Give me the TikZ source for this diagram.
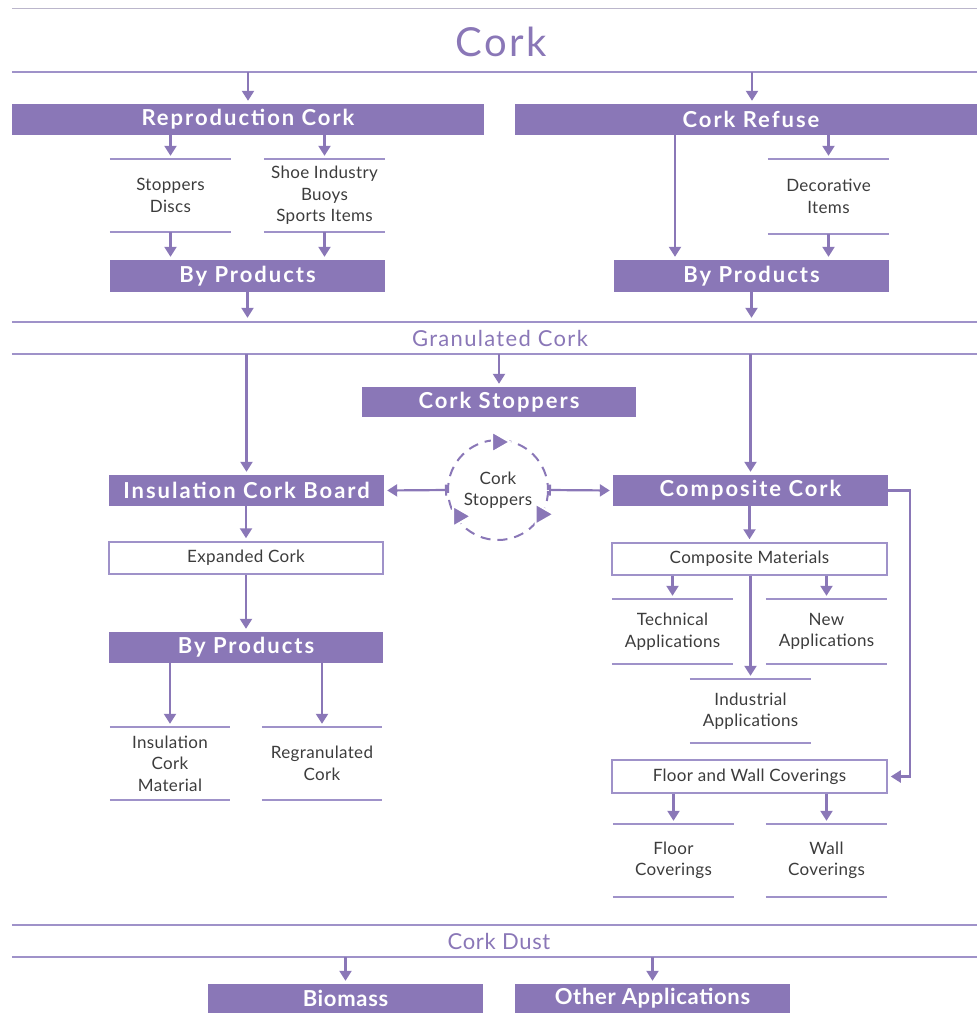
\documentclass[tikz,border=0pt]{standalone}
\usepackage{fontspec}
\setmainfont{Lato}
\newfontfamily\boxfont[LetterSpace=9]{Lato}
\newfontfamily\bandfont[LetterSpace=6]{Lato}
\newfontfamily\itemfont[LetterSpace=2]{Lato}
\newfontfamily\dustfont[LetterSpace=3]{Lato}
\usetikzlibrary{arrows.meta,shapes.geometric,calc}
\definecolor{pc}{HTML}{8A77B7}
\definecolor{pl}{HTML}{9F92C9}
\definecolor{gl}{HTML}{BBB6CB}
\definecolor{tg}{HTML}{3C3C3C}
\begin{document}
\begin{tikzpicture}[x=1pt,y=-1pt,
  arr/.style={draw=pc, line width=2.2pt, -{Triangle[length=10pt,width=12pt]}, shorten >=3pt},
  barr/.style={draw=pc, line width=2.2pt, {Bar[width=11pt,line width=2pt]}-{Triangle[length=10pt,width=12pt]}, shorten >=3pt},
  hline/.style={draw=pl, line width=1.5pt},
  gline/.style={draw=gl, line width=1.2pt},
  hbox/.style={fill=pc, text=white, inner sep=0, font=\boxfont\bfseries\fontsize{22}{24}\selectfont},
  lbox/.style={fill=pc, text=white, inner sep=0, font=\dustfont\bfseries\fontsize{22}{24}\selectfont},
  wbox/.style={fill=white, draw=pl, line width=1.5pt, text=tg, inner sep=0, font=\itemfont\fontsize{17}{20}\selectfont},
  item/.style={inner sep=0, align=center, text=tg, font=\itemfont\fontsize{17}{21.5}\selectfont,
    append after command={(\tikzlastnode.north west) edge[hline] (\tikzlastnode.north east)
      (\tikzlastnode.south west) edge[hline] (\tikzlastnode.south east)}},
  band/.style={inner sep=0, minimum width=965pt, text=pc, font=\bandfont\fontsize{22}{24}\selectfont,
    append after command={(\tikzlastnode.north west) edge[hline] (\tikzlastnode.north east)
      (\tikzlastnode.south west) edge[hline] (\tikzlastnode.south east)}},
  tri/.style={isosceles triangle, isosceles triangle apex angle=60, fill=pc, draw=white, line width=2pt, inner sep=0, minimum size=18pt}
]
\useasboundingbox (0,0) rectangle (977,1013);
% top band
\node[inner sep=0, minimum width=965pt, minimum height=63pt] (ctop) at (494.5,40.5) {};
\draw[gline] (ctop.north west) -- (ctop.north east);
\draw[hline] (ctop.south west) -- (ctop.south east);
\node[text=pc, font=\bandfont\fontsize{40}{44}\selectfont, inner sep=0] (title) at (501,42) {Cork};

% upper boxes
\node[hbox, minimum width=472pt, minimum height=31pt] (rc) at (248,119.5) {Reproduction Cork};
\node[hbox, minimum width=462pt, minimum height=31pt] (cr) at (746,119.5) {\hspace*{10pt}Cork Refuse};
\node[item, minimum width=121pt, minimum height=73pt] (sd) at (170.5,195.5) {Stoppers\\Discs};
\node[item, minimum width=121pt, minimum height=73pt] (si) at (324.5,195.5) {Shoe Industry\\Buoys\\Sports Items};
\node[item, minimum width=121pt, minimum height=75pt] (di) at (828.5,196.5) {Decorative\\Items};
\node[hbox, minimum width=275pt, minimum height=32pt] (bp1) at (247.5,276) {By Products};
\node[hbox, minimum width=275pt, minimum height=32pt] (bp2) at (751.5,276) {By Products};
\coordinate (k1) at (675,0);
\coordinate (k2) at (752,0);

\draw[arr] (ctop.south -| rc) -- (rc);
\draw[arr] (ctop.south -| k2) -- (rc.north -| k2);
\draw[arr] (rc.south -| sd) -- (sd);
\draw[arr] (rc.south -| si) -- (si);
\draw[arr] (sd.south) -- (sd.south |- bp1.north);
\draw[arr] (si.south) -- (si.south |- bp1.north);
\draw[arr] (cr.south -| k1) -- (bp2.north -| k1);
\draw[arr] (cr.south -| di) -- (di);
\draw[arr] (di.south) -- (di.south |- bp2.north);

% granulated band
\node[band, minimum height=32pt] (gran) at (494.5,338) {\hspace*{11pt}Granulated Cork};
\draw[arr, shorten >=4pt] (bp1) -- (bp1 |- gran.north);
\draw[arr, shorten >=4pt] (bp2) -- (bp2 |- gran.north);

% middle
\node[hbox, minimum width=274pt, minimum height=30pt] (cs) at (499,402) {Cork Stoppers};
\node[hbox, minimum width=275pt, minimum height=31pt] (icb) at (246.5,490.5) {Insulation Cork Board};
\node[hbox, minimum width=275pt, minimum height=31pt] (cc) at (750.5,490.5) {Composite Cork};
\node[circle, draw=pc, line width=2pt, dash pattern=on 10pt off 7pt, dash phase=3pt, minimum size=100pt, inner sep=0,
      align=center, text=tg, font=\itemfont\fontsize{17}{21}\selectfont] (circ) at (498,490) {Cork\\Stoppers};
\node[tri] (t1) at ($(circ.center)+(90:48pt)$) {};
\node[tri] (t2) at ($(circ.center)+(214:47pt)$) {};
\node[tri] (t3) at ($(circ.center)+(-29:50pt)$) {};

\draw[arr] (gran.south -| icb) -- (icb);
\draw[arr] (gran.south -| cs) -- (cs);
\draw[arr] (gran.south -| cc) -- (cc);
\draw[barr] (circ.west) -- (icb.east);
\draw[barr] (circ.east) -- (cc.west);

% left column
\node[wbox, minimum width=274pt, minimum height=32pt] (ec) at (246,558) {Expanded Cork};
\node[hbox, minimum width=274pt, minimum height=31pt] (bp3) at (246,647.5) {By Products};
\node[item, minimum width=120pt, minimum height=73pt] (icm) at (170,763.5) {Insulation\\Cork\\Material};
\node[item, minimum width=120pt, minimum height=73pt] (rgc) at (322,763.5) {Regranulated\\Cork};
\draw[arr] (icb.south -| ec) -- (ec);
\draw[arr] (ec) -- (bp3);
\draw[arr] (bp3.south -| icm) -- (icm);
\draw[arr] (bp3.south -| rgc) -- (rgc);

% right column
\node[wbox, minimum width=275pt, minimum height=32pt] (cm) at (749.5,559) {Composite Materials};
\node[item, minimum width=121pt, minimum height=65pt] (ta) at (672.5,631.5) {Technical\\Applications};
\node[item, minimum width=121pt, minimum height=65pt] (na) at (826.5,631.5) {New\\Applications};
\node[item, minimum width=121pt, minimum height=64pt] (ia) at (750.5,711) {Industrial\\Applications};
\node[wbox, minimum width=275pt, minimum height=33pt] (fwc) at (749.5,776.5) {Floor and Wall Coverings};
\node[item, minimum width=121pt, minimum height=73pt] (fc) at (673.5,860.5) {Floor\\Coverings};
\node[item, minimum width=121pt, minimum height=73pt] (wc) at (826.5,860.5) {Wall\\Coverings};
\draw[arr] (cc.south -| cm) -- (cm);
\draw[arr] (cm.south -| ta) -- (ta);
\draw[arr] (cm.south -| na) -- (na);
\draw[arr] (cm.south -| ia) -- (ia);
\draw[arr] (cc.east) -- ++(22pt,0) |- (fwc.east);
\draw[arr] (fwc.south -| fc) -- (fc);
\draw[arr] (fwc.south -| wc) -- (wc);

% dust band
\node[band, minimum height=32pt, font=\dustfont\fontsize{22}{24}\selectfont] (dust) at (494.5,941) {\hspace*{9pt}Cork Dust};
\node[lbox, minimum width=275pt, minimum height=29pt] (bio) at (345.5,998.5) {Biomass};
\node[lbox, minimum width=275pt, minimum height=29pt] (oa) at (652.5,998.5) {Other Applications};
\draw[arr] (dust.south -| bio) -- (bio);
\draw[arr] (dust.south -| oa) -- (oa);
\end{tikzpicture}
\end{document}
